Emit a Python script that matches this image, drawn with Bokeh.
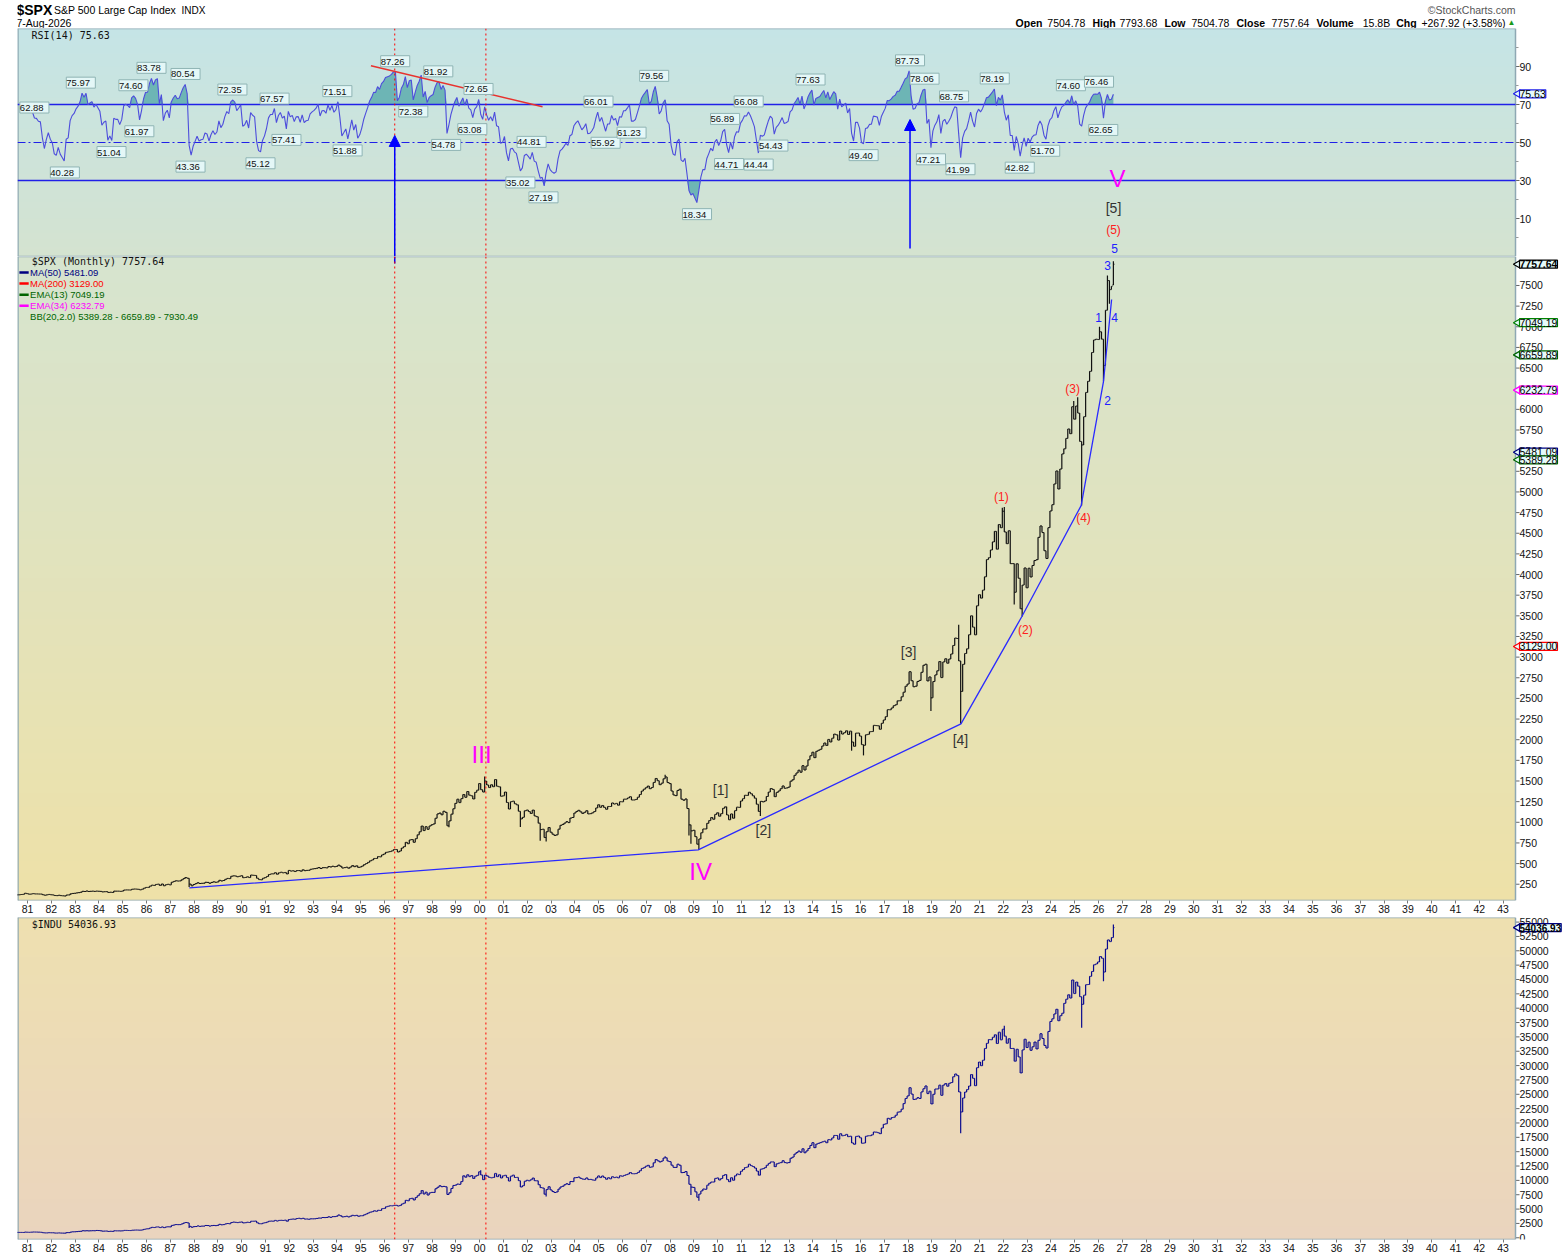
import numpy as np
from bokeh.plotting import figure
from bokeh.layouts import column
from bokeh.models import Range1d, FixedTicker, Span, Label, LabelSet, ColumnDataSource, Arrow, NormalHead
from bokeh.core.properties import value
from bokeh.embed import file_html
from bokeh.resources import INLINE

FONT = "Liberation Sans"

# ---------------- data (monthly closes, Jan 1980 .. Aug 2026) ----------------
first_year = 1980
spx_1980s = [114.2, 113.7, 102.1, 106.3, 111.2, 114.2, 121.7, 122.4, 125.5, 127.5, 140.5, 135.8,
             129.6, 131.3, 136.0, 132.8, 132.6, 131.2, 130.9, 122.8, 116.2, 121.9, 126.4, 122.6,
             120.4, 113.1, 112.0, 116.4, 111.9, 109.6, 107.1, 119.5, 120.4, 133.7, 138.5, 140.6,
             145.3, 148.1, 153.0, 164.4, 162.4, 168.1, 162.6, 164.4, 166.1, 163.6, 166.4, 164.9,
             163.4, 157.1, 159.2, 160.1, 150.6, 153.2, 150.7, 166.7, 166.1, 166.1, 163.6, 167.2,
             179.6, 181.2, 180.7, 179.8, 189.6, 191.9, 190.9, 188.6, 182.1, 189.8, 202.2, 211.3,
             211.8, 226.9, 238.9, 235.5, 247.4, 250.8, 236.1, 252.9, 231.3, 244.0, 249.2, 242.2,
             274.1, 284.2, 291.7, 288.4, 290.1, 304.0, 318.7, 329.8, 321.8, 251.8, 230.3, 247.1,
             257.1, 267.8, 258.9, 261.3, 262.2, 273.5, 272.0, 261.5, 271.9, 279.0, 273.7, 277.7,
             297.5, 288.9, 294.9, 309.6, 320.5, 318.0, 346.1, 351.5, 349.2, 340.4, 346.0, 353.4]
spx_1990s = [329.1, 331.9, 339.9, 330.8, 361.2, 358.0, 356.2, 322.6, 306.1, 304.0, 322.2, 330.2,
             343.9, 367.1, 375.2, 375.4, 389.8, 371.2, 387.8, 395.4, 387.9, 392.5, 375.2, 417.1,
             408.8, 412.7, 403.7, 415.0, 415.4, 408.1, 424.2, 414.0, 417.8, 418.7, 431.4, 435.7,
             438.8, 443.4, 451.7, 440.2, 450.2, 450.5, 448.1, 463.6, 458.9, 467.8, 461.8, 466.5,
             481.6, 467.1, 445.8, 450.9, 456.5, 444.3, 458.3, 475.5, 462.7, 472.4, 453.7, 459.3,
             470.4, 487.4, 500.7, 514.7, 533.4, 544.8, 562.1, 561.9, 584.4, 581.5, 605.4, 615.9,
             636.0, 640.4, 645.5, 654.2, 669.1, 670.6, 640.0, 652.0, 687.3, 705.3, 757.0, 740.7,
             786.2, 790.8, 757.1, 801.3, 848.3, 885.1, 954.3, 899.5, 947.3, 914.6, 955.4, 970.4,
             980.3, 1049.3, 1101.8, 1111.8, 1090.8, 1133.8, 1120.7, 957.3, 1017.0, 1098.7, 1163.6, 1229.2,
             1279.6, 1238.3, 1286.4, 1335.2, 1301.8, 1372.7, 1328.7, 1320.4, 1282.7, 1362.9, 1388.9, 1469.3]
spx_2000s = [1394.5, 1366.4, 1498.6, 1452.4, 1420.6, 1454.6, 1430.8, 1517.7, 1436.5, 1429.4, 1315.0, 1320.3,
             1366.0, 1239.9, 1160.3, 1249.5, 1255.8, 1224.4, 1211.2, 1133.6, 1040.9, 1059.8, 1139.5, 1148.1,
             1130.2, 1106.7, 1147.4, 1076.9, 1067.1, 989.8, 911.6, 916.1, 815.3, 885.8, 936.3, 879.8,
             855.7, 841.2, 848.2, 916.9, 963.6, 974.5, 990.3, 1008.0, 996.0, 1050.7, 1058.2, 1111.9,
             1131.1, 1144.9, 1126.2, 1107.3, 1120.7, 1140.8, 1101.7, 1104.2, 1114.6, 1130.2, 1173.8, 1211.9,
             1181.3, 1203.6, 1180.6, 1156.9, 1191.5, 1191.3, 1234.2, 1220.3, 1228.8, 1207.0, 1249.5, 1248.3,
             1280.1, 1280.7, 1294.9, 1310.6, 1270.1, 1270.2, 1276.7, 1303.8, 1335.9, 1377.9, 1400.6, 1418.3,
             1438.2, 1406.8, 1420.9, 1482.4, 1530.6, 1503.4, 1455.3, 1474.0, 1526.8, 1549.4, 1481.1, 1468.4,
             1378.6, 1330.6, 1322.7, 1385.6, 1400.4, 1280.0, 1267.4, 1282.8, 1166.4, 968.8, 896.2, 903.3,
             825.9, 735.1, 797.9, 872.8, 919.1, 919.3, 987.5, 1020.6, 1057.1, 1036.2, 1095.6, 1115.1]
spx_2010s = [1073.9, 1104.5, 1169.4, 1186.7, 1089.4, 1030.7, 1101.6, 1049.3, 1141.2, 1183.3, 1180.6, 1257.6,
             1286.1, 1327.2, 1325.8, 1363.6, 1345.2, 1320.6, 1292.3, 1218.9, 1131.4, 1253.3, 1247.0, 1257.6,
             1312.4, 1365.7, 1408.5, 1397.9, 1310.3, 1362.2, 1379.3, 1406.6, 1440.7, 1412.2, 1416.2, 1426.2,
             1498.1, 1514.7, 1569.2, 1597.6, 1630.7, 1606.3, 1685.7, 1633.0, 1681.6, 1756.5, 1805.8, 1848.4,
             1782.6, 1859.5, 1872.3, 1884.0, 1923.6, 1960.2, 1930.7, 2003.4, 1972.3, 2018.1, 2067.6, 2058.9,
             1995.0, 2104.5, 2067.9, 2085.5, 2107.4, 2063.1, 2103.8, 1972.2, 1920.0, 2079.4, 2080.4, 2043.9,
             1940.2, 1932.2, 2059.7, 2065.3, 2097.0, 2098.9, 2173.6, 2171.0, 2168.3, 2126.2, 2198.8, 2238.8,
             2278.9, 2363.6, 2362.7, 2384.2, 2411.8, 2423.4, 2470.3, 2471.7, 2519.4, 2575.3, 2647.6, 2673.6,
             2823.8, 2713.8, 2640.9, 2648.1, 2705.3, 2718.4, 2816.3, 2901.5, 2914.0, 2711.7, 2760.2, 2506.9,
             2704.1, 2784.5, 2834.4, 2945.8, 2752.1, 2941.8, 2980.4, 2926.5, 2976.7, 3037.6, 3141.0, 3230.8]
spx_2020s = [3225.5, 2954.2, 2584.6, 2912.4, 3044.3, 3100.3, 3271.1, 3500.3, 3363.0, 3270.0, 3621.6, 3756.1,
             3714.2, 3811.2, 3972.9, 4181.2, 4204.1, 4297.5, 4395.3, 4522.7, 4307.5, 4605.4, 4567.0, 4766.2,
             4515.6, 4373.9, 4530.4, 4131.9, 4132.2, 3785.4, 4130.3, 3955.0, 3585.6, 3872.0, 4080.1, 3839.5,
             4076.6, 3970.2, 4109.3, 4169.5, 4179.8, 4450.4, 4589.0, 4507.7, 4288.1, 4193.8, 4567.8, 4769.8,
             4845.7, 5096.3, 5254.4, 5035.7, 5277.5, 5460.5, 5522.3, 5648.4, 5762.5, 5705.5, 6032.4, 5881.6,
             6040.5, 5954.5, 5611.9, 5569.1, 5911.7, 6205.0, 6339.4, 6460.3, 6688.5, 6840.2, 6849.1, 6845.5,
             6940.0, 6850.0, 6530.0, 7200.0, 7560.0, 7450.0, 7489.7, 7757.6]
spx_last_open = 7504.78
spx_extra_low_dates = ["1987-10", "1998-09", "2001-09", "2002-07", "2002-10", "2008-10", "2008-11", "2009-03",
                       "2011-10", "2015-08", "2016-02", "2018-12", "2020-03", "2022-06", "2022-10", "2025-04",
                       "2026-03", "2026-06"]
spx_extra_lows = [216.5, 940, 944, 776, 768, 840, 741, 667, 1075, 1867, 1810, 2347, 2192, 3637, 3492, 4835, 6340, 7280]
spx_extra_high_dates = ["1987-08", "2000-03", "2007-10", "2020-02", "2021-12", "2022-01", "2024-12", "2025-02",
                        "2026-01", "2026-05", "2026-08"]
spx_extra_highs = [337, 1553, 1576, 3393, 4808, 4818, 6100, 6147, 7000, 7620, 7793.68]

indu_1980s = [876, 863, 786, 817, 851, 868, 935, 933, 932, 925, 993, 964,
              947, 975, 1004, 998, 992, 977, 952, 882, 850, 853, 889, 875,
              871, 824, 823, 848, 820, 812, 809, 901, 896, 992, 1039, 1047,
              1076, 1113, 1130, 1226, 1200, 1222, 1199, 1216, 1233, 1225, 1276, 1259,
              1221, 1155, 1165, 1171, 1105, 1132, 1115, 1224, 1207, 1207, 1189, 1212,
              1287, 1284, 1267, 1258, 1315, 1336, 1348, 1334, 1329, 1374, 1472, 1547,
              1571, 1709, 1819, 1784, 1877, 1893, 1775, 1898, 1768, 1878, 1914, 1896,
              2158, 2224, 2305, 2286, 2292, 2419, 2572, 2663, 2596, 1994, 1834, 1939,
              1958, 2072, 1988, 2032, 2031, 2142, 2129, 2032, 2113, 2149, 2115, 2169,
              2342, 2258, 2294, 2419, 2480, 2440, 2661, 2737, 2693, 2645, 2706, 2753]
indu_1990s = [2591, 2627, 2707, 2657, 2877, 2881, 2905, 2614, 2453, 2442, 2560, 2634,
              2736, 2882, 2914, 2888, 3028, 2907, 3025, 3044, 3017, 3069, 2895, 3169,
              3223, 3268, 3236, 3359, 3397, 3319, 3394, 3257, 3272, 3226, 3305, 3301,
              3310, 3371, 3435, 3428, 3527, 3516, 3540, 3651, 3555, 3681, 3684, 3754,
              3978, 3832, 3636, 3682, 3758, 3625, 3765, 3913, 3843, 3908, 3739, 3834,
              3844, 4011, 4158, 4321, 4465, 4556, 4709, 4611, 4789, 4756, 5075, 5117,
              5395, 5486, 5587, 5569, 5643, 5655, 5529, 5616, 5882, 6029, 6522, 6448,
              6813, 6878, 6584, 7009, 7331, 7673, 8223, 7622, 7945, 7442, 7823, 7908,
              7907, 8546, 8800, 9063, 8900, 8952, 8883, 7539, 7843, 8592, 9117, 9181,
              9359, 9307, 9786, 10789, 10560, 10971, 10655, 10829, 10337, 10730, 10878, 11497]
indu_2000s = [10941, 10128, 10922, 10734, 10522, 10448, 10522, 11215, 10651, 10971, 10415, 10788,
              10887, 10495, 9879, 10735, 10912, 10502, 10523, 9950, 8848, 9075, 9852, 10022,
              9920, 10106, 10404, 9946, 9925, 9243, 8737, 8664, 7592, 8397, 8896, 8342,
              8054, 7891, 7992, 8480, 8850, 8985, 9234, 9416, 9275, 9801, 9783, 10454,
              10488, 10584, 10358, 10226, 10189, 10436, 10140, 10174, 10080, 10028, 10428, 10783,
              10490, 10766, 10504, 10193, 10468, 10275, 10641, 10482, 10569, 10440, 10806, 10718,
              10865, 10993, 11109, 11367, 11168, 11150, 11186, 11381, 11679, 12081, 12222, 12463,
              12622, 12269, 12354, 13063, 13628, 13409, 13212, 13358, 13896, 13930, 13372, 13265,
              12650, 12266, 12263, 12820, 12638, 11350, 11378, 11544, 10851, 9325, 8829, 8776,
              8001, 7063, 7609, 8168, 8500, 8447, 9172, 9496, 9712, 9713, 10345, 10428]
indu_2010s = [10067, 10325, 10857, 11009, 10137, 9774, 10466, 10015, 10788, 11119, 11006, 11578,
              11892, 12226, 12320, 12811, 12570, 12414, 12143, 11614, 10913, 11955, 12046, 12218,
              12633, 12952, 13212, 13214, 12394, 12880, 13009, 13091, 13437, 13097, 13026, 13104,
              13861, 14055, 14579, 14840, 15116, 14910, 15500, 14810, 15130, 15546, 16086, 16577,
              15699, 16322, 16458, 16581, 16717, 16827, 16563, 17099, 17043, 17391, 17828, 17823,
              17165, 18133, 17776, 17841, 18011, 17620, 17690, 16528, 16285, 17664, 17720, 17425,
              16466, 16517, 17685, 17774, 17787, 17930, 18432, 18401, 18308, 18142, 19124, 19763,
              19864, 20812, 20663, 20941, 21009, 21350, 21891, 21948, 22405, 23377, 24272, 24719,
              26149, 25029, 24103, 24163, 24416, 24271, 25415, 25965, 26458, 25116, 25539, 23328,
              25000, 25916, 25929, 26593, 24815, 26600, 26864, 26403, 26917, 27046, 28051, 28538]
indu_2020s = [28256, 25409, 21917, 24346, 25383, 25813, 26428, 28430, 27782, 26502, 29639, 30606,
              29983, 30932, 32982, 33875, 34529, 34503, 34935, 35361, 33844, 35820, 34484, 36338,
              35132, 33893, 34678, 32977, 32990, 30775, 32845, 31510, 28726, 32733, 34590, 33147,
              34086, 32657, 33274, 34098, 32908, 34408, 35560, 34722, 33508, 33053, 35951, 37690,
              38150, 38996, 39807, 37816, 38686, 39119, 40843, 41563, 42330, 41763, 44911, 42544,
              44545, 43841, 42002, 40669, 42270, 44095, 44131, 45545, 46398, 47563, 47716, 48063,
              49000, 48700, 46300, 50300, 51900, 51600, 52300, 54036.9]
indu_extra_low_dates = ["1987-10", "2002-10", "2008-11", "2009-03", "2020-03", "2022-09", "2025-04", "2026-03"]
indu_extra_lows = [1700, 7197, 7449, 6470, 18214, 28715, 36612, 44700]
indu_extra_high_dates = ["2000-01", "2007-10", "2022-01", "2026-08"]
indu_extra_highs = [11750, 14198, 36952, 54600]

# RSI pivot labels (date, printed value)
rsi_high_t = [1981.29, 1983.24, 1985.45, 1986.21, 1987.64, 1989.61, 1991.38, 1994.02, 1996.45, 1998.26, 1999.95,
              2002.18, 2004.99, 2007.33, 2010.31, 2011.30, 2013.90, 2018.08, 2018.69, 2019.93, 2021.64, 2024.84, 2026.02]
rsi_high_v = [62.88, 75.97, 74.60, 83.78, 80.54, 72.35, 67.57, 71.51, 87.26, 81.92, 72.65,
              44.81, 66.01, 79.56, 56.89, 66.08, 77.63, 87.73, 78.06, 68.75, 78.19, 74.60, 76.46]
rsi_low_t = [1982.57, 1984.53, 1985.70, 1987.85, 1990.79, 1991.88, 1994.45, 1997.21, 1998.59, 1999.69, 2001.71,
             2002.68, 2005.29, 2006.38, 2009.13, 2010.48, 2011.72, 2012.34, 2016.13, 2018.96, 2020.20, 2022.69,
             2023.76, 2026.20]
rsi_low_v = [40.28, 51.04, 61.97, 43.36, 45.12, 57.41, 51.88, 72.38, 54.78, 63.08, 35.02,
             27.19, 55.92, 61.23, 18.34, 44.71, 44.44, 54.43, 49.40, 47.21, 41.99, 42.82, 51.70, 62.65]

# annotations
rsi_trend_t = [1995.43, 2002.64]
rsi_trend_v = [90.4, 68.8]
spx_trend_t = [1987.80, 2009.18, 2020.22, 2022.78, 2025.27, 2026.21, 2026.55]
spx_trend_v = [205, 667, 2192, 3492, 4835, 6340, 7330]
red_lines_t = [1996.43, 2000.26]
arrow_t = [1996.43, 2018.08]
arrow_from = [-10, -5.8]
arrow_tip = [53.7, 62.1]

big_wave_t = [2000.08, 2009.28]
big_wave_v = [1820, 404]
big_wave_text = ["III", "IV"]
sq_wave_t = [2010.12, 2011.92, 2018.02, 2020.20]
sq_wave_v = [1397, 912, 3056, 2002]
sq_wave_text = ["[1]", "[2]", "[3]", "[4]"]
par_wave_t = [2021.92, 2022.93, 2024.91, 2025.37]
par_wave_v = [4933, 3334, 6241, 4690]
par_wave_text = ["(1)", "(2)", "(3)", "(4)"]
min_wave_t = [2026.0, 2026.38, 2026.38, 2026.67]
min_wave_v = [7112, 6107, 7742, 7112]
min_wave_text = ["1", "2", "3", "4"]

spx_badges_v = [7757.64, 7049.19, 6659.89, 6232.79, 5481.09, 5389.28, 3129.00]
spx_badges_c = ["#000000", "#008000", "#006400", "#ff00ff", "#000080", "#006400", "#ff0000"]

# ---------------- derived ----------------
def month_index(s):
    y, m = s.split("-")
    return (int(y) - first_year) * 12 + int(m) - 1

def ohlc(closes, last_open, lo_d, lo_v, hi_d, hi_v):
    c = np.array(closes, dtype=float)
    o = np.concatenate([[c[0]], c[:-1]])
    if last_open is not None:
        o[-1] = last_open
    h = np.maximum(o, c)
    l = np.minimum(o, c)
    for d, v in zip(lo_d, lo_v):
        i = month_index(d)
        l[i] = min(l[i], v)
    for d, v in zip(hi_d, hi_v):
        i = month_index(d)
        h[i] = max(h[i], v)
    return o, h, l, c

spx_close = spx_1980s + spx_1990s + spx_2000s + spx_2010s + spx_2020s
indu_close = indu_1980s + indu_1990s + indu_2000s + indu_2010s + indu_2020s
N = len(spx_close)
T = np.array([first_year + (i + 0.5) / 12 for i in range(N)])
so, sh, sl, sc = ohlc(spx_close, spx_last_open, spx_extra_low_dates, spx_extra_lows, spx_extra_high_dates, spx_extra_highs)
io, ih, il, ic = ohlc(indu_close, None, indu_extra_low_dates, indu_extra_lows, indu_extra_high_dates, indu_extra_highs)

def wilder_rsi(c, n=14):
    d = np.diff(c)
    g = np.clip(d, 0, None)
    ls = np.clip(-d, 0, None)
    ag, al = g[:n].mean(), ls[:n].mean()
    out = np.full(len(c), np.nan)
    out[n] = 100 - 100 / (1 + ag / al)
    for i in range(n + 1, len(c)):
        ag = (ag * (n - 1) + g[i - 1]) / n
        al = (al * (n - 1) + ls[i - 1]) / n
        out[i] = 100.0 if al == 0 else 100 - 100 / (1 + ag / al)
    return out

rsi = wilder_rsi(sc)
RT, RV = T[14:], rsi[14:]

# ---------------- layout ----------------
X0, X1 = 1980.58, 2043.52
FW = 1498            # data-area width in px
AXW = 48             # right axis strip (inside the frame, drawn by hand)
PPY = FW / (X1 - X0)  # px per year
X2 = X1 + AXW / PPY
LB = 17
xr = Range1d(X0, X2)
BORDER = "#8ea8b3"

def gradient(p, y0, y1, top, bottom):
    n = 96
    img = np.empty((n, 2), dtype=np.uint32)
    view = img.view(dtype=np.uint8).reshape((n, 2, 4))
    for i in range(n):
        f = i / (n - 1)
        for k in range(3):
            view[i, :, k] = int(round(bottom[k] + (top[k] - bottom[k]) * f))
        view[i, :, 3] = 255
    p.image_rgba(image=[img], x=X0, y=y0, dw=X1 - X0, dh=y1 - y0)

def panel(frame_h, y0, y1, ticks, minor, xaxis, top, bottom):
    p = figure(frame_width=FW + AXW, frame_height=frame_h, x_range=xr, y_range=Range1d(y0, y1),
               output_backend="svg", toolbar_location=None, y_axis_location=None,
               x_axis_location=("below" if xaxis else None),
               min_border_left=LB, min_border_right=0, min_border_top=0,
               min_border_bottom=(17 if xaxis else 0))
    p.grid.visible = False
    p.outline_line_color = None
    p.background_fill_color = "white"
    p.border_fill_color = "white"
    gradient(p, y0, y1, top, bottom)
    if xaxis:
        xa = p.xaxis[0]
        yrs = list(range(1981, 2044))
        xa.ticker = FixedTicker(ticks=yrs)
        xa.major_label_overrides = {y: "%02d" % (y % 100) for y in yrs}
        xa.major_label_text_font = FONT
        xa.major_label_text_font_size = "10.5px"
        xa.major_label_text_color = "#111111"
        xa.major_tick_out = 3
        xa.major_tick_in = 0
        xa.minor_tick_out = 0
        xa.minor_tick_in = 0
        xa.major_label_standoff = 1
        xa.axis_line_color = None
        xa.major_tick_line_color = "#777777"
    for tt in red_lines_t:
        p.add_layout(Span(location=tt, dimension="height", line_color="#ff0000", line_dash="2 3", line_width=1))
    # hand-drawn right axis
    p.segment(x0=[X1] * len(minor), y0=minor, x1=[X1 + 3 / PPY] * len(minor), y1=minor,
              line_color="#999999", line_width=1)
    p.segment(x0=[X1] * len(ticks), y0=ticks, x1=[X1 + 4 / PPY] * len(ticks), y1=ticks,
              line_color="#666666", line_width=1)
    p.text(x=[X1 + 4 / PPY] * len(ticks), y=ticks, text=[str(v) for v in ticks], text_font=value(FONT),
           text_font_size="10.5px", text_color="#111111", text_baseline="middle", text_align="left")
    # frame border around data area
    p.segment(x0=[X0, X0, X0 + 0.02, X1], y0=[y1, y0, y0, y0], x1=[X1, X1, X0 + 0.02, X1], y1=[y1, y0, y1, y1],
              line_color=BORDER, line_width=1.5)
    return p

def draw_bars(p, o, h, l, c, color):
    p.segment(T, l, T, h, line_color=color, line_width=1.2)
    p.segment(T - 0.045, o, T, o, line_color=color, line_width=1)
    p.segment(T, c, T + 0.045, c, line_color=color, line_width=1)

def badge(p, y, text, color, bold=False, size="10.5px"):
    p.scatter(x=[X1 + 2.5 / PPY], y=[y], marker="triangle", angle=np.pi / 2, size=8,
              fill_color="#e6fbfb", line_color=color, line_width=1.2)
    p.add_layout(Label(x=X1, y=y, text=text, x_offset=4, text_align="left", text_baseline="middle",
                       text_font=FONT, text_font_size=size, text_color="#000000",
                       text_font_style=("bold" if bold else "normal"),
                       background_fill_color="#e6fbfb", border_line_color=color, border_line_width=1.2))

# ---------------- header ----------------
HH = 28
hdr = figure(frame_width=FW + AXW, frame_height=HH, x_range=Range1d(LB, LB + FW + AXW), y_range=Range1d(0, HH),
             output_backend="svg", toolbar_location=None, x_axis_location=None, y_axis_location=None,
             min_border_left=LB, min_border_right=0, min_border_top=0, min_border_bottom=0)
hdr.grid.visible = False
hdr.outline_line_color = None
hdr.background_fill_color = "white"
hdr.border_fill_color = "white"

def htext(x, y, s, size, bold=False, color="#000000", align="left"):
    hdr.text(x=[x], y=[HH - y], text=[s], text_font=value(FONT), text_font_size=size,
             text_font_style=("bold" if bold else "normal"), text_color=color,
             text_align=align, text_baseline="middle")

htext(16, 9.5, "$SPX", "14px", bold=True)
htext(53.5, 9.5, "S&P 500 Large Cap Index", "10.5px")
htext(181, 9.5, "INDX", "10px")
htext(16, 22, "7-Aug-2026", "10.5px")
htext(1515, 9.5, "\u00a9StockCharts.com", "10.5px", color="#555555", align="right")
seg_x = [1015.1, 1046.8, 1091.9, 1118.9, 1164, 1191, 1236, 1271, 1316, 1362.2, 1395.7, 1420.9]
seg_s = ["Open", "7504.78", "High", "7793.68", "Low", "7504.78", "Close", "7757.64", "Volume", "15.8B", "Chg",
         "+267.92 (+3.58%)"]
for i, (xx, ss) in enumerate(zip(seg_x, seg_s)):
    htext(xx, 22, ss, "10.5px", bold=(i % 2 == 0))
htext(1511, 22, "\u25b2", "8px", color="#1a9a1a", align="center")

# ---------------- RSI panel ----------------
pr = panel(228, -10, 110, [10, 30, 50, 70, 90], [0, 20, 40, 60, 80, 100], False, (197, 228, 230), (212, 227, 208))
pr.varea(x=RT, y1=np.full(len(RV), 70.0), y2=np.maximum(RV, 70), fill_color="#6db5b5")
pr.varea(x=RT, y1=np.minimum(RV, 30), y2=np.full(len(RV), 30.0), fill_color="#6db5b5")
pr.segment(x0=[X0, X0], y0=[70, 30], x1=[X1, X1], y1=[70, 30], line_color="#2020e8", line_width=1.3)
pr.segment(x0=[X0], y0=[50], x1=[X1], y1=[50], line_color="#2020e8", line_width=1.2, line_dash="8 3 2 3")
pr.line(RT, RV, line_color="#4d4ddc", line_width=1.1)
pr.line(rsi_trend_t, rsi_trend_v, line_color="#e8322e", line_width=1.5)
hs = ColumnDataSource(dict(x=rsi_high_t, y=rsi_high_v, text=[" %.2f " % v for v in rsi_high_v]))
ls_ = ColumnDataSource(dict(x=rsi_low_t, y=rsi_low_v, text=[" %.2f " % v for v in rsi_low_v]))
for src, base, off in [(hs, "bottom", 5), (ls_, "top", -6)]:
    pr.add_layout(LabelSet(x="x", y="y", text="text", source=src, text_align="center", text_baseline=base,
                           y_offset=off, text_font=value(FONT), text_font_size="9.5px", text_color="#111111",
                           background_fill_color="#e4f7f7", border_line_color="#8fb4b4"))
for tt, y0, y1 in zip(arrow_t, arrow_from, arrow_tip):
    pr.add_layout(Arrow(end=NormalHead(size=11, fill_color="#0000ff", line_color="#0000ff"),
                        x_start=tt, y_start=y0, x_end=tt, y_end=y1, line_color="#0000ff", line_width=1.5))
pr.text(x=[1981.17], y=[106.3], text=["RSI(14) 75.63"], text_font=value("DejaVu Sans Mono"),
        text_font_size="10px", text_color="#111111", text_baseline="middle")
pr.text(x=[2026.80], y=[31], text=["V"], text_font=value(FONT), text_font_size="24px",
        text_color="#ff00ff", text_align="center", text_baseline="middle")
pr.text(x=[2026.63], y=[15.3], text=["[5]"], text_font=value(FONT), text_font_size="14px",
        text_color="#333333", text_align="center", text_baseline="middle")
pr.text(x=[2026.63], y=[3.7], text=["(5)"], text_font=value(FONT), text_font_size="12px",
        text_color="#ff2020", text_align="center", text_baseline="middle")
pr.text(x=[2026.67], y=[-5.8], text=["5"], text_font=value(FONT), text_font_size="12px",
        text_color="#2020ff", text_align="center", text_baseline="middle")
badge(pr, 75.63, "75.63", "#2020e8")

# ---------------- SPX panel ----------------
SY0, SY1 = 53, 7851
ps = panel(644, SY0, SY1, list(range(250, 7501, 250)), [], True, (214, 228, 207), (238, 225, 168))
draw_bars(ps, so, sh, sl, sc, "#111111")
ps.line(spx_trend_t, spx_trend_v, line_color="#2a2aff", line_width=1.3)
ps.segment(x0=[arrow_t[0]], y0=[7766], x1=[arrow_t[0]], y1=[SY1], line_color="#0000ff", line_width=1.5)
ps.text(x=big_wave_t, y=big_wave_v, text=big_wave_text, text_font=value(FONT), text_font_size="24px",
        text_color="#ff00ff", text_align="center", text_baseline="middle")
ps.text(x=sq_wave_t, y=sq_wave_v, text=sq_wave_text, text_font=value(FONT), text_font_size="14px",
        text_color="#333333", text_align="center", text_baseline="middle")
ps.text(x=par_wave_t, y=par_wave_v, text=par_wave_text, text_font=value(FONT), text_font_size="12px",
        text_color="#ff2020", text_align="center", text_baseline="middle")
ps.text(x=min_wave_t, y=min_wave_v, text=min_wave_text, text_font=value(FONT), text_font_size="12px",
        text_color="#2020ff", text_align="center", text_baseline="middle")
ps.text(x=[1981.18], y=[7790], text=["$SPX (Monthly) 7757.64"], text_font=value("DejaVu Sans Mono"),
        text_font_size="10px", text_color="#111111", text_baseline="middle")
leg_y = [7657, 7523, 7389, 7256, 7122]
leg_txt = ["MA(50) 5481.09", "MA(200) 3129.00", "EMA(13) 7049.19", "EMA(34) 6232.79",
           "BB(20,2.0) 5389.28 - 6659.89 - 7930.49"]
leg_col = ["#000080", "#ff0000", "#006400", "#ff00ff", "#006400"]
ps.text(x=[1981.11] * 5, y=leg_y, text=leg_txt, text_font=value(FONT), text_font_size="9.5px",
        text_color=leg_col, text_baseline="middle")
ps.segment(x0=[1980.66] * 4, y0=leg_y[:4], x1=[1981.05] * 4, y1=leg_y[:4], line_color=leg_col[:4], line_width=2.5)
for v, col in zip(spx_badges_v, spx_badges_c):
    badge(ps, v, "%.2f" % v, col, bold=(v == spx_badges_v[0]))

# ---------------- INDU panel ----------------
IY0, IY1 = -300, 55800
pi = panel(322, IY0, IY1, list(range(0, 55001, 2500)), [], True, (238, 224, 176), (234, 212, 190))
draw_bars(pi, io, ih, il, ic, "#0b0b8f")
pi.text(x=[1981.18], y=[54580], text=["$INDU 54036.93"], text_font=value("DejaVu Sans Mono"),
        text_font_size="10px", text_color="#111111", text_baseline="middle")
badge(pi, 54036.93, "54036.93", "#000080", bold=True, size="10px")

layout = column(hdr, pr, ps, pi, spacing=0)
open("out.html", "w").write(file_html(layout, INLINE))
